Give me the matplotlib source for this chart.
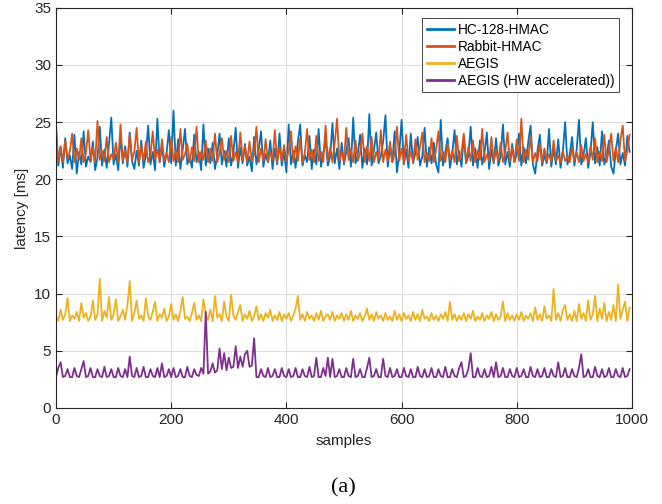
import numpy as np
import matplotlib.pyplot as plt

plt.rcParams['font.family'] = ['Liberation Sans', 'DejaVu Sans']

# latency per sample (every 4th sample), ms
samples = np.arange(0, 1000, 4)

hc128 = [
    24.9, 21.2, 22.8, 21.0, 23.6, 21.4, 22.1, 20.9, 23.9, 20.5, 22.4, 21.3, 24.2, 21.1, 22.0, 21.5, 23.3, 20.8, 21.9, 24.6, 21.2, 22.6, 21.0, 23.1, 25.4,
    21.3, 22.2, 20.8, 23.8, 21.4, 22.9, 21.1, 24.1, 21.6, 20.9, 22.5, 21.2, 23.4, 21.0, 22.1, 24.7, 21.3, 22.4, 20.8, 25.3, 21.5, 23.0, 21.1, 22.3, 24.3,
    21.4, 26.0, 21.2, 23.5, 20.9, 22.6, 24.4, 21.3, 22.0, 21.0, 23.9, 21.5, 22.4, 20.8, 24.8, 21.2, 22.7, 21.4, 23.2, 20.9, 22.1, 24.0, 21.3, 22.5, 21.1,
    23.6, 21.2, 22.3, 24.5, 21.0, 22.8, 21.4, 23.1, 21.2, 22.0, 20.7, 23.7, 21.3, 22.6, 24.2, 21.1, 22.2, 21.5, 23.4, 20.9, 22.7, 21.3, 24.0, 21.2, 22.4,
    20.6, 24.8, 21.3, 22.5, 21.0, 23.3, 24.8, 21.2, 22.1, 21.5, 23.8, 20.9, 22.6, 21.3, 24.4, 21.1, 22.3, 23.5, 21.2, 22.0, 24.9, 21.4, 22.7, 20.9, 23.2,
    21.3, 22.4, 23.6, 21.1, 25.4, 21.4, 22.2, 23.9, 21.0, 22.7, 21.3, 25.7, 21.2, 22.5, 24.1, 21.4, 22.0, 23.3, 25.6, 21.1, 22.8, 21.5, 24.2, 20.6, 22.3,
    25.2, 21.3, 22.6, 21.0, 24.0, 21.4, 22.3, 23.7, 21.2, 22.0, 24.5, 21.1, 22.8, 21.4, 23.2, 21.3, 20.6, 25.2, 21.2, 22.4, 23.6, 21.0, 22.2, 24.3, 21.3,
    22.5, 21.1, 23.8, 21.4, 22.1, 24.6, 21.2, 22.7, 21.0, 23.4, 21.3, 22.3, 24.1, 20.9, 22.6, 21.4, 23.6, 21.2, 22.0, 24.8, 21.3, 22.4, 21.1, 23.1, 21.5,
    22.2, 24.0, 21.2, 22.8, 21.4, 23.3, 24.7, 21.3, 20.5, 22.5, 23.9, 21.2, 22.1, 21.4, 24.4, 21.1, 22.7, 21.3, 23.5, 21.0, 22.4, 25.0, 21.3, 22.2, 23.7,
    21.2, 22.6, 25.2, 21.3, 22.1, 23.6, 21.0, 22.4, 25.0, 21.4, 22.8, 21.2, 24.2, 21.3, 22.0, 23.4, 21.1, 20.5, 22.5, 24.0, 21.3, 22.3, 21.2, 23.8, 22.4,
]

rabbit = [
    23.8, 21.6, 22.9, 21.5, 23.4, 21.8, 22.4, 24.0, 21.5, 22.7, 21.7, 23.6, 21.5, 22.3, 24.3, 21.6, 22.8, 21.5, 25.1, 21.7, 22.5, 21.6, 23.7, 21.5, 22.2,
    21.8, 23.2, 21.5, 24.8, 21.6, 22.6, 21.5, 23.9, 21.7, 22.4, 24.5, 21.5, 22.9, 21.6, 23.3, 21.5, 22.1, 24.2, 21.7, 22.6, 21.5, 23.5, 21.6, 22.3, 21.5,
    23.7, 21.6, 22.5, 21.5, 24.4, 21.7, 22.2, 23.1, 21.5, 22.8, 21.6, 24.6, 21.5, 22.4, 21.7, 23.4, 21.5, 22.7, 21.6, 24.0, 21.5, 22.3, 23.6, 21.7, 22.5,
    21.5, 23.8, 21.6, 22.4, 21.5, 24.1, 21.7, 22.9, 21.5, 23.3, 21.6, 22.2, 24.6, 21.5, 22.7, 21.6, 23.5, 21.5, 22.4, 21.7, 24.3, 21.5, 22.8, 21.6, 23.0,
    21.6, 22.5, 24.2, 21.5, 22.9, 21.6, 23.6, 21.5, 22.3, 24.4, 21.7, 22.6, 21.5, 23.8, 21.6, 22.4, 21.5, 24.7, 21.6, 22.8, 21.5, 23.2, 25.3, 21.6, 22.4,
    21.5, 24.5, 21.7, 22.6, 21.5, 23.4, 21.6, 22.3, 24.0, 21.5, 22.9, 21.6, 23.7, 21.5, 22.4, 21.7, 24.3, 21.5, 22.6, 21.6, 23.3, 21.5, 22.2, 24.6, 21.6,
    22.7, 21.5, 23.9, 21.6, 22.4, 21.5, 23.5, 21.7, 22.8, 24.1, 21.5, 22.3, 21.6, 23.6, 21.5, 22.6, 24.2, 21.6, 22.4, 21.5, 23.1, 21.7, 22.5, 21.5, 23.8,
    21.6, 22.3, 24.0, 21.5, 22.8, 21.6, 23.4, 21.5, 22.5, 21.7, 24.4, 21.5, 22.2, 21.6, 23.7, 21.5, 22.6, 21.6, 23.2, 21.5, 22.4, 24.1, 21.6, 22.7, 21.5,
    23.5, 21.6, 25.3, 21.5, 22.6, 21.7, 23.8, 21.5, 22.3, 21.6, 23.1, 21.5, 22.7, 21.6, 22.2, 21.5, 23.4, 21.6, 22.1, 21.5, 22.5, 21.6, 22.0, 21.5, 22.8,
    21.6, 22.4, 21.5, 23.0, 21.6, 22.2, 21.5, 22.9, 21.7, 23.6, 21.5, 22.4, 21.6, 23.9, 21.5, 22.6, 24.0, 21.6, 22.8, 21.5, 23.4, 24.7, 21.6, 22.5, 23.9,
]

aegis = [
    8.0, 7.6, 8.6, 7.7, 8.2, 9.6, 7.6, 8.1, 7.8, 8.4, 7.6, 9.2, 7.9, 8.3, 7.6, 8.0, 9.4, 7.7, 8.2, 11.3, 7.6, 8.5, 7.9, 9.7, 7.7,
    8.2, 9.5, 7.6, 8.0, 8.6, 7.7, 9.0, 11.1, 7.6, 8.3, 9.4, 7.8, 8.1, 7.6, 9.6, 8.0, 7.7, 8.4, 9.3, 7.6, 8.2, 7.9, 8.7, 7.6, 8.0,
    9.1, 7.7, 8.2, 7.6, 8.5, 9.7, 7.8, 8.0, 7.6, 8.3, 9.2, 7.7, 8.1, 7.6, 9.5, 8.2, 7.7, 8.6, 7.6, 9.8, 7.9, 8.2, 7.6, 9.3, 8.0,
    7.6, 9.9, 8.1, 7.7, 8.4, 9.0, 7.6, 8.2, 7.8, 8.5, 7.6, 8.0, 8.9, 7.7, 8.2, 7.6, 8.3, 7.9, 8.6, 7.6, 8.1, 7.7, 8.4, 7.6, 8.2,
    7.8, 8.3, 7.6, 8.1, 8.7, 9.8, 7.7, 8.2, 7.6, 8.4, 7.8, 8.1, 7.6, 8.3, 7.7, 8.5, 7.6, 8.0, 8.2, 7.7, 8.4, 7.6, 8.1, 7.8, 8.3,
    7.6, 8.2, 7.7, 8.5, 7.6, 8.1, 7.8, 8.3, 7.6, 8.0, 8.7, 7.7, 8.2, 7.6, 8.4, 7.8, 8.1, 7.6, 8.3, 7.7, 8.0, 7.6, 8.5, 7.7, 8.2,
    7.6, 8.3, 7.8, 8.1, 7.6, 8.4, 7.7, 8.2, 7.6, 8.6, 7.8, 8.0, 7.6, 8.3, 7.7, 8.1, 7.6, 8.2, 7.8, 8.4, 7.6, 9.3, 7.7, 8.2, 7.6,
    8.1, 7.7, 8.3, 7.6, 8.2, 7.8, 8.5, 7.6, 8.0, 7.7, 8.3, 7.6, 8.1, 7.8, 8.4, 7.6, 8.2, 7.7, 8.0, 9.3, 7.6, 8.3, 7.7, 8.1, 7.6,
    8.2, 7.7, 8.4, 7.6, 8.1, 7.8, 8.3, 7.6, 8.8, 7.7, 8.2, 7.6, 8.9, 7.8, 8.1, 7.6, 10.4, 7.7, 8.3, 7.6, 8.6, 9.0, 7.7, 8.2, 7.6,
    8.5, 7.6, 9.1, 7.8, 8.3, 7.6, 9.4, 7.7, 8.2, 9.8, 7.6, 8.7, 7.8, 9.2, 7.6, 8.4, 7.7, 9.0, 7.6, 10.8, 7.8, 8.6, 9.3, 7.6, 8.8,
]

aegis_hw = [
    2.7, 3.5, 4.0, 2.7, 2.8, 3.4, 2.7, 2.7, 3.5, 2.8, 2.7, 3.4, 4.1, 2.7, 2.8, 3.5, 2.7, 2.7, 3.4, 2.8, 2.7, 3.6, 2.7, 2.8, 3.4,
    2.7, 2.7, 3.5, 2.8, 2.7, 3.4, 2.7, 4.5, 2.8, 2.7, 3.5, 2.7, 2.8, 3.6, 2.7, 2.7, 3.4, 2.8, 2.7, 3.5, 2.7, 3.9, 2.7, 2.8, 3.4,
    2.7, 3.5, 2.7, 2.8, 3.4, 2.7, 2.7, 3.6, 2.8, 2.7, 3.4, 2.9, 2.8, 3.5, 3.0, 8.4, 3.0, 3.2, 3.9, 3.1, 3.3, 5.2, 3.4, 4.8, 3.3,
    4.4, 3.5, 3.6, 5.4, 3.5, 4.5, 3.6, 4.7, 5.0, 3.6, 3.7, 6.1, 2.7, 2.7, 3.4, 2.8, 2.7, 3.5, 2.7, 2.8, 3.4, 2.7, 2.7, 3.5, 2.8,
    2.7, 3.4, 2.7, 2.8, 3.5, 2.7, 2.7, 3.4, 2.8, 2.7, 3.6, 2.7, 2.8, 4.4, 2.7, 2.7, 3.5, 2.8, 4.4, 2.7, 4.3, 2.7, 2.8, 3.4, 2.7,
    2.7, 3.5, 2.8, 2.7, 4.3, 2.7, 2.8, 3.4, 2.7, 2.7, 3.5, 4.4, 2.7, 2.8, 3.4, 2.7, 2.7, 4.3, 2.8, 2.7, 3.5, 2.7, 2.8, 3.4, 2.7,
    2.7, 3.5, 2.8, 2.7, 3.4, 2.7, 2.7, 3.6, 2.8, 2.7, 3.4, 2.7, 2.8, 3.5, 2.7, 2.7, 3.4, 2.8, 2.7, 3.6, 2.7, 2.7, 3.4, 2.8, 2.7,
    3.5, 4.0, 2.7, 2.8, 3.4, 4.8, 2.7, 2.7, 3.5, 2.8, 2.7, 3.4, 2.7, 2.8, 3.6, 2.7, 4.0, 2.7, 2.8, 3.5, 2.7, 2.7, 3.4, 2.8, 2.7,
    3.5, 2.7, 2.8, 3.4, 2.7, 2.7, 3.6, 2.8, 2.7, 3.4, 2.7, 2.8, 3.5, 2.7, 2.7, 3.4, 2.8, 2.7, 4.0, 2.7, 2.8, 3.5, 2.7, 2.7, 3.4,
    2.8, 2.7, 3.5, 4.7, 2.7, 2.8, 3.4, 2.7, 2.7, 3.6, 2.8, 2.7, 3.4, 2.7, 2.8, 3.5, 2.7, 2.7, 3.4, 2.8, 2.7, 3.5, 2.7, 2.8, 3.4,
]

series = [
    ("HC-128-HMAC", hc128, "#0072BD"),
    ("Rabbit-HMAC", rabbit, "#D95319"),
    ("AEGIS", aegis, "#EDB120"),
    ("AEGIS (HW accelerated))", aegis_hw, "#7E2F8E"),
]

fig = plt.figure(figsize=(6.62, 5.04), dpi=100)
ax = fig.add_axes([0.0846, 0.1905, 0.870, 0.794])

for name, vals, col in series:
    ax.plot(samples, vals, color=col, lw=1.3, label=name)

ax.set_xlim(0, 1000)
ax.set_ylim(0, 35)
ax.set_xticks(np.arange(0, 1001, 200))
ax.set_yticks(np.arange(0, 36, 5))
ax.grid(True, color="#dcdcdc", lw=0.8)
ax.set_axisbelow(True)
ax.tick_params(direction="in", top=True, right=True, length=4, colors="#262626",
               labelsize=11, labelcolor="#262626")
for s in ax.spines.values():
    s.set_color("#262626")
    s.set_linewidth(0.8)

ax.set_xlabel("samples", fontsize=11, color="#262626", labelpad=5)
ax.set_ylabel("latency [ms]", fontsize=11, color="#262626", labelpad=4)

leg = ax.legend(loc="upper right", bbox_to_anchor=(0.985, 0.985), fontsize=9.8,
                fancybox=False, framealpha=1, edgecolor="#262626",
                handlelength=2.0, handletextpad=0.25, borderpad=0.35,
                labelspacing=0.22, borderaxespad=0.3)
leg.get_frame().set_linewidth(0.6)
for h in leg.get_lines():
    h.set_linewidth(2)

fig.text(0.518, 0.012, "(a)", family=["Liberation Serif", "DejaVu Serif"],
         fontsize=16, ha="center", va="bottom")

fig.savefig("out.png", dpi=100)
